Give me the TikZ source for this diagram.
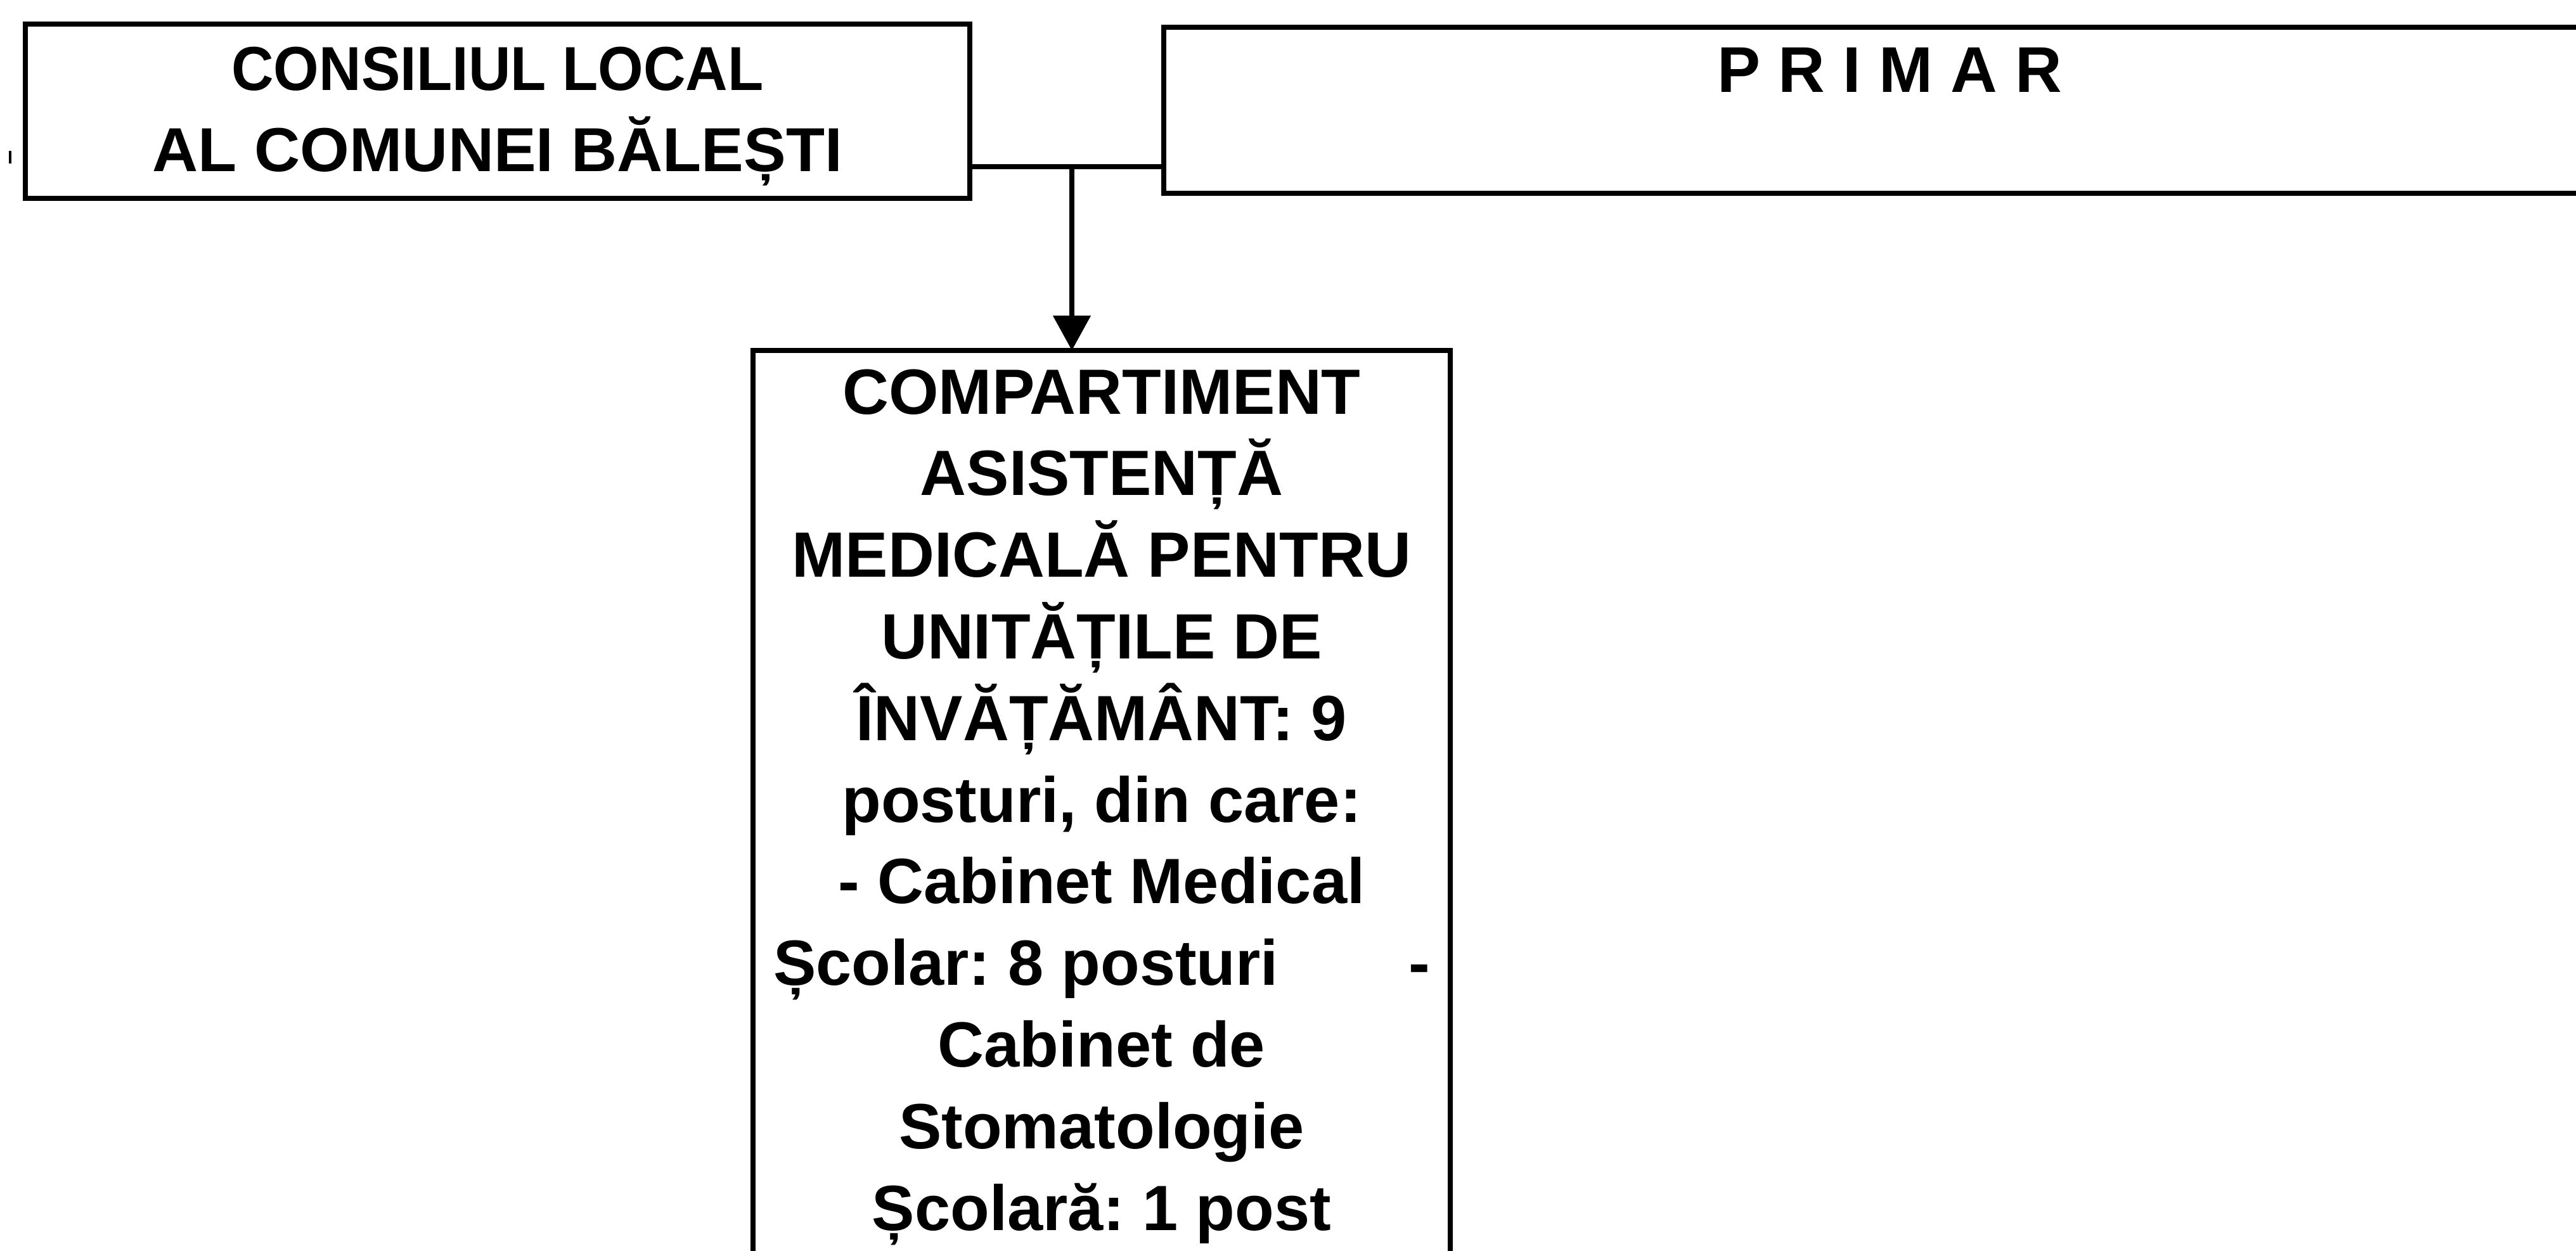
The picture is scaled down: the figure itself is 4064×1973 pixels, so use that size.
\documentclass[tikz,border=0pt]{standalone}
\usepackage{fontspec}
\setmainfont{Liberation Sans}
\usetikzlibrary{arrows.meta}
\frenchspacing
\tikzset{
  orgbox/.style={draw=black, line width=2.1pt, inner xsep=0pt, inner ysep=0pt,
    outer sep=0pt, align=center, anchor=north, text=black},
  conn/.style={draw=black, line width=2pt},
}
\begin{document}
\begin{tikzpicture}[x=0.25pt, y=-0.25pt]
\useasboundingbox (0,0) rectangle (4064,1973);
\clip (0,0) rectangle (4064,1973);
% consiliul local
\node[orgbox, minimum width=372.5pt,
      font={\fontsize{24.5}{32}\selectfont\bfseries}] (cons) at (785,38)
  {\rule{0pt}{26pt}\scalebox{0.94}[1]{CONSILIUL LOCAL}\\
   \scalebox{1.02}[1]{AL COMUNEI BĂLEȘTI}\rule[-10.75pt]{0pt}{0pt}};
% primar
\node[orgbox, minimum width=572.5pt,
      font={\fontsize{25.5}{32}\selectfont\bfseries}] (prim) at (2981,43)
  {\rule{0pt}{25.5pt}P R I M A R\rule[-40pt]{0pt}{0pt}};
% compartiment
\node[orgbox, minimum width=275pt,
      font={\fontsize{25.25}{32.2}\selectfont\bfseries}] (comp) at (1738,553)
  {\rule{0pt}{25pt}COMPARTIMENT\\
   ASISTENȚĂ\\
   MEDICALĂ PENTRU\\
   UNITĂȚILE DE\\
   ÎNVĂȚĂMÂNT: 9\\
   posturi, din care:\\
   - Cabinet Medical\\
   \makebox[259pt]{Școlar: 8 posturi\hfill-}\\
   Cabinet de\\
   Stomatologie\\
   Școlară: 1 post\rule[-50pt]{0pt}{0pt}};
% connectors
\coordinate (j) at (1691,263);
\draw[conn] (cons.east |- j) -- (prim.west |- j);
\draw[conn, -{Triangle[length=13.75pt, width=14.5pt]}] (j) -- (j |- comp.north);
% scan mark at the left edge
\draw[line width=1pt] (16,238) -- (16,258);
\end{tikzpicture}
\end{document}
